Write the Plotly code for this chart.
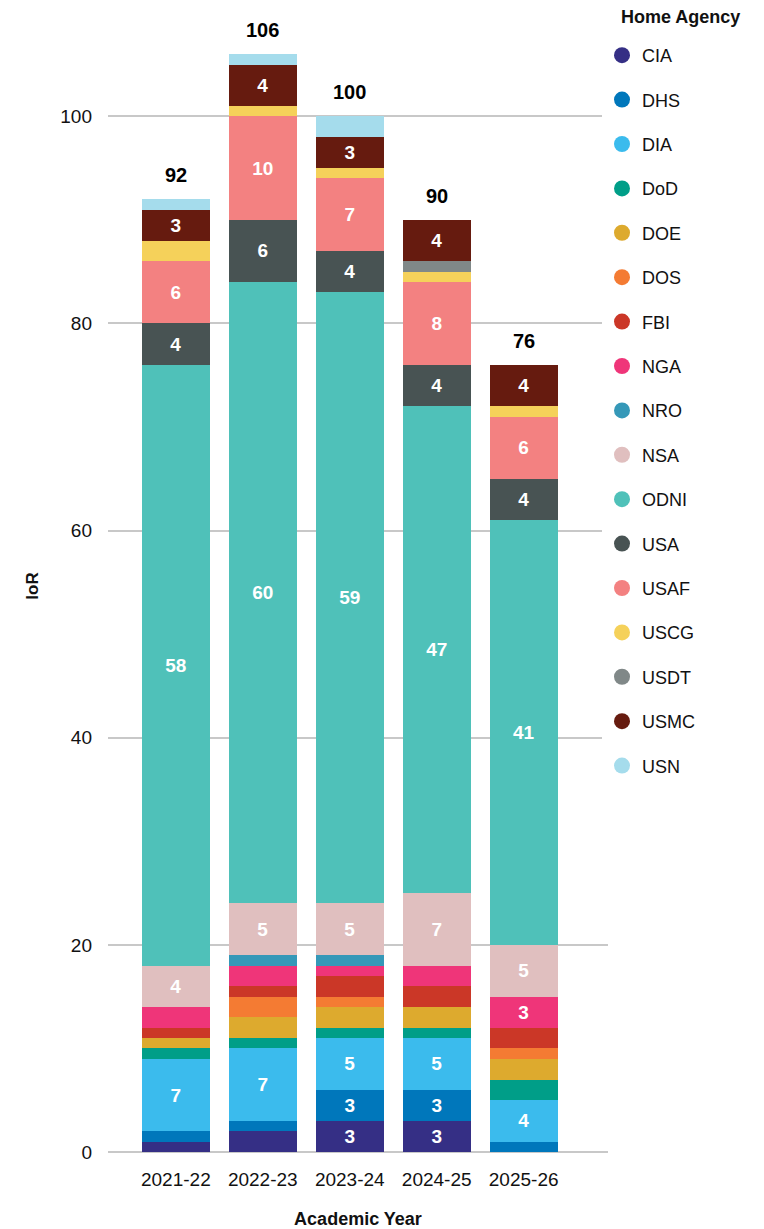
import plotly.graph_objects as go

years = ["2021-22", "2022-23", "2023-24", "2024-25", "2025-26"]
agencies = ["CIA", "DHS", "DIA", "DoD", "DOE", "DOS", "FBI", "NGA", "NRO",
            "NSA", "ODNI", "USA", "USAF", "USCG", "USDT", "USMC", "USN"]

# counts per agency, one value per academic year
cia = [1, 2, 3, 3, 0]
dhs = [1, 1, 3, 3, 1]
dia = [7, 7, 5, 5, 4]
dod = [1, 1, 1, 1, 2]
doe = [1, 2, 2, 2, 2]
dos = [0, 2, 1, 0, 1]
fbi = [1, 1, 2, 2, 2]
nga = [2, 2, 1, 2, 3]
nro = [0, 1, 1, 0, 0]
nsa = [4, 5, 5, 7, 5]
odni = [58, 60, 59, 47, 41]
usa = [4, 6, 4, 4, 4]
usaf = [6, 10, 7, 8, 6]
uscg = [2, 1, 1, 1, 1]
usdt = [0, 0, 0, 1, 0]
usmc = [3, 4, 3, 4, 4]
usn = [1, 1, 2, 0, 0]

series = [cia, dhs, dia, dod, doe, dos, fbi, nga, nro,
          nsa, odni, usa, usaf, uscg, usdt, usmc, usn]

colors = ["#352f85", "#0077bb", "#3bbbed", "#009e88", "#ddaa2e", "#f47b33",
          "#cb3727", "#ef3579", "#3598b8", "#e0bfbf", "#4fc1b9", "#485353",
          "#f38181", "#f5d15a", "#808888", "#661b0f", "#a5dcec"]

totals = [sum(col) for col in zip(*series)]

font = "Liberation Sans"
fig = go.Figure()

for name, vals, col in zip(agencies, series, colors):
    labels = [str(v) if v >= 3 else "" for v in vals]
    fig.add_trace(go.Bar(
        x=years, y=vals, name=name, marker_color=col, marker_line_width=0,
        text=labels, textposition="inside", insidetextanchor="middle",
        textangle=0, textfont=dict(color="white", size=19, family=font, weight="bold"),
        showlegend=False, legendgroup=name, hoverinfo="name+y",
    ))
    # legend entry drawn as a circle
    fig.add_trace(go.Scatter(
        x=[None], y=[None], mode="markers", name=name, legendgroup=name,
        marker=dict(color=col, size=18, symbol="circle"),
    ))

for yr, t in zip(years, totals):
    fig.add_annotation(x=yr, y=t, text="<b>%d</b>" % t, showarrow=False,
                       yanchor="bottom", yshift=11,
                       font=dict(size=20, color="black", family=font))

fig.add_annotation(text="<b>Home Agency</b>", xref="paper", yref="paper",
                   x=1.022, y=1.003, xanchor="left", yanchor="middle",
                   showarrow=False, font=dict(size=18, color="#111111"))

# page body adds an 8px offset, so the figure is 8px smaller than the window
fig.update_layout(
    width=756, height=1221,
    barmode="stack", bargap=0.22,
    plot_bgcolor="white", paper_bgcolor="white",
    margin=dict(l=100, r=156, t=12, b=77),
    font=dict(family=font, size=19, color="#111111"),
    legend=dict(
        font=dict(size=18), traceorder="grouped", tracegroupgap=18,
        x=0.988, xanchor="left", y=0.985, yanchor="top",
        itemsizing="trace", maxheight=1200,
    ),
    xaxis=dict(
        title=dict(text="<b>Academic Year</b>", font=dict(size=18), standoff=25),
        range=[-0.78, 4.97], showgrid=False, ticks="", tickfont=dict(size=19),
        ticklabelstandoff=14, automargin=False,
    ),
    yaxis=dict(
        title=dict(text="<b>IoR</b>", font=dict(size=17), standoff=17),
        range=[0, 109.3], dtick=20, gridcolor="#c8c8c8", gridwidth=2,
        zeroline=True, zerolinecolor="#c8c8c8", zerolinewidth=2,
        tickfont=dict(size=19), ticks="", ticklabelstandoff=15, automargin=False,
    ),
)

fig.write_html("out.html")
